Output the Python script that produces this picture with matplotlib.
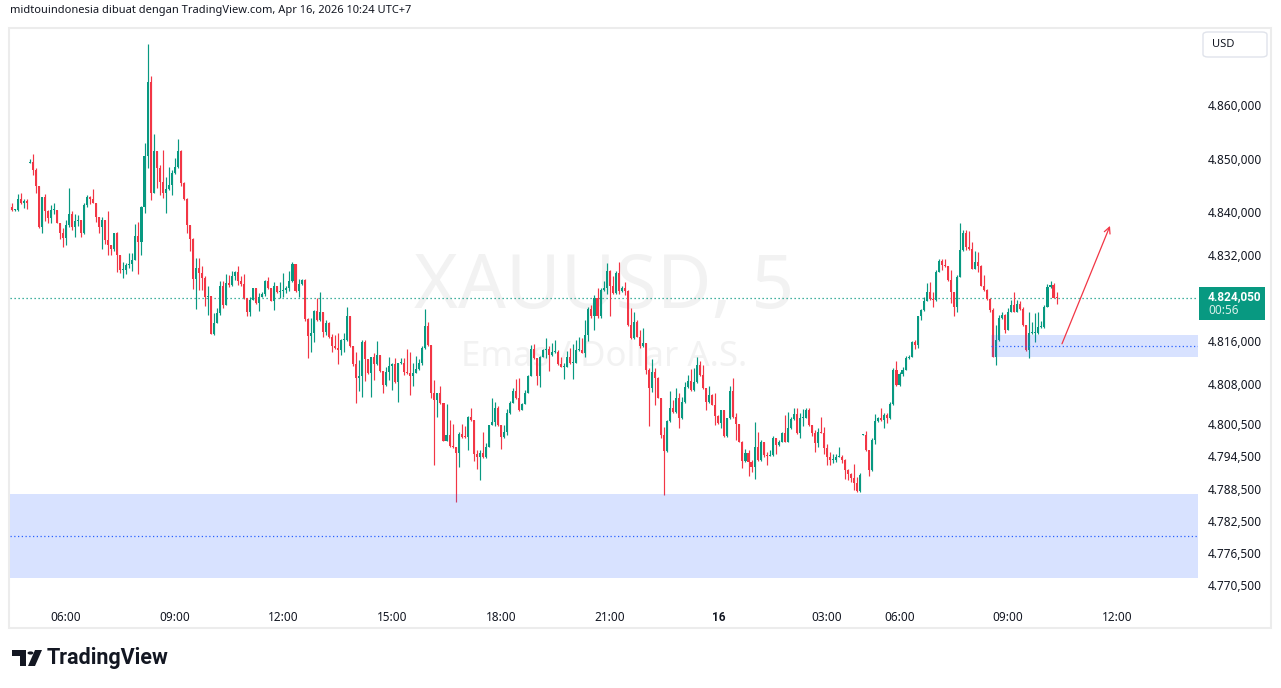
import matplotlib
matplotlib.use("Agg")
import matplotlib.pyplot as plt
from matplotlib.patches import Rectangle, FancyBboxPatch, Polygon, Circle

plt.rcParams['font.family'] = ['Noto Sans', 'DejaVu Sans']
BOLD_FAMILY = ['Roboto', 'DejaVu Sans']

# ---------------- data (XAUUSD 5-minute candles) ----------------
close = [
4841.1, 4840.5, 4840.5, 4842.5, 4841.8, 4842.2, 4841.8, 4849.5, 4848.0, 4844.9,
4837.2, 4842.8, 4840.2, 4839.0, 4840.5, 4840.5, 4838.1, 4836.2, 4835.3, 4837.7,
4839.7, 4837.2, 4838.4, 4838.6, 4836.2, 4841.4, 4842.8, 4842.5, 4841.8, 4839.1,
4837.3, 4838.6, 4834.9, 4833.9, 4833.1, 4836.1, 4832.1, 4829.3, 4829.3, 4830.2,
4830.3, 4831.2, 4835.7, 4834.5, 4841.0, 4850.5, 4864.3, 4843.6, 4851.4, 4848.3,
4845.7, 4843.6, 4844.4, 4845.2, 4847.4, 4848.4, 4851.4, 4845.5, 4842.6, 4837.6,
4835.1, 4827.6, 4829.6, 4828.7, 4827.8, 4824.2, 4824.4, 4817.3, 4819.4, 4821.2,
4826.2, 4822.8, 4826.8, 4826.4, 4828.1, 4828.9, 4827.2, 4826.6, 4824.1, 4821.4,
4823.7, 4825.9, 4823.2, 4824.3, 4824.7, 4827.2, 4825.9, 4823.5, 4826.2, 4825.2,
4825.3, 4825.5, 4825.9, 4827.2, 4830.3, 4825.3, 4826.6, 4827.4, 4820.1, 4817.0,
4817.6, 4821.6, 4819.9, 4821.5, 4817.7, 4819.3, 4816.8, 4815.0, 4814.7, 4814.3,
4816.2, 4816.2, 4820.7, 4815.0, 4811.7, 4809.1, 4809.5, 4815.9, 4812.6, 4810.1,
4813.0, 4811.7, 4813.4, 4810.5, 4807.8, 4810.3, 4811.4, 4811.7, 4808.4, 4811.9,
4812.0, 4810.3, 4810.0, 4809.5, 4810.1, 4810.8, 4811.9, 4814.7, 4818.8, 4815.3,
4806.3, 4805.0, 4806.3, 4804.4, 4797.4, 4798.5, 4796.4, 4796.3, 4795.2, 4798.7,
4798.2, 4798.1, 4801.9, 4801.3, 4794.9, 4794.3, 4795.1, 4794.3, 4796.3, 4800.3,
4800.9, 4803.5, 4800.3, 4798.2, 4799.1, 4802.5, 4804.5, 4806.7, 4805.3, 4803.1,
4804.3, 4806.4, 4809.5, 4814.5, 4812.8, 4809.5, 4813.1, 4814.3, 4814.5, 4813.4,
4814.0, 4814.0, 4811.7, 4811.2, 4811.2, 4813.0, 4812.0, 4812.0, 4814.3, 4814.3,
4813.8, 4817.1, 4822.0, 4820.6, 4824.1, 4820.6, 4825.5, 4825.9, 4829.1, 4826.2,
4824.9, 4828.8, 4825.3, 4826.0, 4825.3, 4819.0, 4816.5, 4819.6, 4816.8, 4815.0,
4815.6, 4810.6, 4807.2, 4810.3, 4809.2, 4805.4, 4798.5, 4795.5, 4801.1, 4803.6,
4802.7, 4805.3, 4801.6, 4804.7, 4807.5, 4808.6, 4806.9, 4808.4, 4811.6, 4809.7,
4807.2, 4804.7, 4806.0, 4804.1, 4802.0, 4800.8, 4803.1, 4798.3, 4801.6, 4806.7,
4801.8, 4800.5, 4797.2, 4793.7, 4795.1, 4793.5, 4792.6, 4796.2, 4793.8, 4797.2,
4794.7, 4794.6, 4794.7, 4797.9, 4796.6, 4797.2, 4798.9, 4797.2, 4799.7, 4801.4,
4802.4, 4798.8, 4801.6, 4801.6, 4803.1, 4800.3, 4798.9, 4797.0, 4799.1, 4798.9,
4796.0, 4794.3, 4793.9, 4793.9, 4794.4, 4794.4, 4793.9, 4791.9, 4791.3, 4790.4,
4789.5, 4788.1, 4791.0, 4798.5, 4795.7, 4791.9, 4797.5, 4801.1, 4801.6, 4801.3,
4802.2, 4801.6, 4804.3, 4810.6, 4807.8, 4809.9, 4810.7, 4812.8, 4813.1, 4815.9,
4815.3, 4820.6, 4821.8, 4823.5, 4825.2, 4823.8, 4823.7, 4828.9, 4830.9, 4830.2,
4830.1, 4827.4, 4825.2, 4822.4, 4828.0, 4833.0, 4836.1, 4833.6, 4833.2, 4829.5,
4830.8, 4830.1, 4826.3, 4825.5, 4823.8, 4821.8, 4813.1, 4816.2, 4820.3, 4820.9,
4818.1, 4821.5, 4822.7, 4821.5, 4822.9, 4822.0, 4819.0, 4814.3, 4817.5, 4817.5,
4817.5, 4818.7, 4818.7, 4822.4, 4826.1, 4826.5, 4824.1, 4824.05,
]

high = [
4841.7, 4841.7, 4840.6, 4843.4, 4843.6, 4842.5, 4842.6, 4850.0, 4851.0, 4848.3,
4844.9, 4842.9, 4843.4, 4840.5, 4841.4, 4841.8, 4840.5, 4838.1, 4837.1, 4838.6,
4844.5, 4840.3, 4839.7, 4839.5, 4838.6, 4841.7, 4843.3, 4843.1, 4844.3, 4841.8,
4839.1, 4839.2, 4838.6, 4840.3, 4833.9, 4836.2, 4836.4, 4832.1, 4830.8, 4830.5,
4832.4, 4832.4, 4837.8, 4838.2, 4841.2, 4852.9, 4871.4, 4865.4, 4854.6, 4851.5,
4848.9, 4851.7, 4846.7, 4848.4, 4848.0, 4850.2, 4853.7, 4851.7, 4845.7, 4842.7,
4837.7, 4835.2, 4831.5, 4831.5, 4830.0, 4828.1, 4826.2, 4824.4, 4821.2, 4822.2,
4827.2, 4827.2, 4828.5, 4828.3, 4829.0, 4829.1, 4830.0, 4828.1, 4828.5, 4824.1,
4824.3, 4826.0, 4825.9, 4824.9, 4825.1, 4827.4, 4828.0, 4825.9, 4827.0, 4826.3,
4827.1, 4828.8, 4826.3, 4829.0, 4830.8, 4830.4, 4827.6, 4827.5, 4827.6, 4820.3,
4820.4, 4821.8, 4824.1, 4825.2, 4821.5, 4819.9, 4819.6, 4817.3, 4817.1, 4817.5,
4816.4, 4817.5, 4822.4, 4820.7, 4815.0, 4814.0, 4812.5, 4816.2, 4816.2, 4812.6,
4813.1, 4813.8, 4816.0, 4813.4, 4810.5, 4811.2, 4813.1, 4811.9, 4812.8, 4812.0,
4812.8, 4812.8, 4814.5, 4814.0, 4811.9, 4813.2, 4812.6, 4815.0, 4821.9, 4819.6,
4815.3, 4808.7, 4806.4, 4807.6, 4804.4, 4804.3, 4801.3, 4800.5, 4796.3, 4799.1,
4800.5, 4800.2, 4802.0, 4803.5, 4801.3, 4795.7, 4795.6, 4799.1, 4797.0, 4800.4,
4805.3, 4804.7, 4803.9, 4800.3, 4800.3, 4803.3, 4804.9, 4807.2, 4808.9, 4809.1,
4804.4, 4806.9, 4809.7, 4815.3, 4815.5, 4812.9, 4813.2, 4814.5, 4816.5, 4815.1,
4815.6, 4816.3, 4814.3, 4813.0, 4812.0, 4814.2, 4814.7, 4815.5, 4816.3, 4816.8,
4816.5, 4819.9, 4822.4, 4822.7, 4824.6, 4825.9, 4826.0, 4827.2, 4830.5, 4829.3,
4828.2, 4829.0, 4830.8, 4826.2, 4827.1, 4825.5, 4822.1, 4821.5, 4819.9, 4818.1,
4818.4, 4815.6, 4810.9, 4812.7, 4810.9, 4809.3, 4805.4, 4800.0, 4801.2, 4806.7,
4805.0, 4807.2, 4806.3, 4805.6, 4808.4, 4809.7, 4810.8, 4810.9, 4813.1, 4812.2,
4811.5, 4807.2, 4807.6, 4806.2, 4806.3, 4802.2, 4803.2, 4803.1, 4801.7, 4807.6,
4809.1, 4802.6, 4800.6, 4797.3, 4795.8, 4795.7, 4793.9, 4800.9, 4799.1, 4797.5,
4796.9, 4795.4, 4795.6, 4798.3, 4797.9, 4797.5, 4799.1, 4802.2, 4802.8, 4801.9,
4803.6, 4803.5, 4802.5, 4803.3, 4803.5, 4803.5, 4800.3, 4799.4, 4799.7, 4801.9,
4800.0, 4796.8, 4795.4, 4794.9, 4794.9, 4796.3, 4794.7, 4794.1, 4792.1, 4791.4,
4793.1, 4790.6, 4791.4, 4798.6, 4799.2, 4795.7, 4797.9, 4802.4, 4801.8, 4803.6,
4802.5, 4802.6, 4804.7, 4810.9, 4812.2, 4810.3, 4811.2, 4813.2, 4813.4, 4816.1,
4816.2, 4820.7, 4821.9, 4824.3, 4826.8, 4827.1, 4825.2, 4829.2, 4831.4, 4831.4,
4831.4, 4830.1, 4829.3, 4825.2, 4828.3, 4838.0, 4836.7, 4836.7, 4836.5, 4834.5,
4832.8, 4832.7, 4830.2, 4828.3, 4825.7, 4824.0, 4822.1, 4819.0, 4820.9, 4821.5,
4821.1, 4822.1, 4823.7, 4825.2, 4823.7, 4823.5, 4822.4, 4819.1, 4821.5, 4819.5,
4821.2, 4821.4, 4819.8, 4822.7, 4826.6, 4827.2, 4826.8, 4825.2,
]

low = [
4840.5, 4840.3, 4840.3, 4840.2, 4841.6, 4840.8, 4840.6, 4849.3, 4847.0, 4843.6,
4837.1, 4836.2, 4838.5, 4838.0, 4838.0, 4839.7, 4838.0, 4835.1, 4833.5, 4834.0,
4837.3, 4836.7, 4835.4, 4837.5, 4835.5, 4836.0, 4841.1, 4841.6, 4841.7, 4838.3,
4836.2, 4833.2, 4834.2, 4832.1, 4832.1, 4832.9, 4828.9, 4828.8, 4827.7, 4828.6,
4829.6, 4829.0, 4831.2, 4828.5, 4832.0, 4839.9, 4848.3, 4842.4, 4843.6, 4844.6,
4843.3, 4842.7, 4839.9, 4844.2, 4843.3, 4847.2, 4848.3, 4844.9, 4842.4, 4836.2,
4832.8, 4825.8, 4821.9, 4825.6, 4825.6, 4822.5, 4820.9, 4817.3, 4817.2, 4819.4,
4820.9, 4822.2, 4822.7, 4826.1, 4826.3, 4827.4, 4826.5, 4826.3, 4823.9, 4820.7,
4820.7, 4823.7, 4822.9, 4821.6, 4824.2, 4824.4, 4825.7, 4823.4, 4821.8, 4825.0,
4824.1, 4824.2, 4825.0, 4825.3, 4827.0, 4825.2, 4824.3, 4826.5, 4819.7, 4812.9,
4814.0, 4815.8, 4819.7, 4819.8, 4816.8, 4817.1, 4816.6, 4813.9, 4814.5, 4811.7,
4813.5, 4813.9, 4816.0, 4814.9, 4811.4, 4804.4, 4806.7, 4805.6, 4808.5, 4809.9,
4805.6, 4808.7, 4811.5, 4810.2, 4806.4, 4807.6, 4808.7, 4806.9, 4808.1, 4804.7,
4811.7, 4809.7, 4809.8, 4806.0, 4807.6, 4810.0, 4810.6, 4811.5, 4814.5, 4815.1,
4805.3, 4792.9, 4801.8, 4804.3, 4797.3, 4797.3, 4796.2, 4796.1, 4786.0, 4792.6,
4797.9, 4797.9, 4795.6, 4801.1, 4793.7, 4792.1, 4790.1, 4794.2, 4794.2, 4796.2,
4800.3, 4800.2, 4800.2, 4795.8, 4798.0, 4798.5, 4802.4, 4804.4, 4805.2, 4803.0,
4803.3, 4804.2, 4806.3, 4809.4, 4812.7, 4807.8, 4807.4, 4813.0, 4812.8, 4810.5,
4813.2, 4813.8, 4811.6, 4811.1, 4808.9, 4811.1, 4811.8, 4808.9, 4811.9, 4814.2,
4813.7, 4813.1, 4816.0, 4820.4, 4818.1, 4820.4, 4820.4, 4825.3, 4824.7, 4820.6,
4824.8, 4824.8, 4824.7, 4825.2, 4824.6, 4818.9, 4816.4, 4816.4, 4816.7, 4814.8,
4814.9, 4809.8, 4800.2, 4806.6, 4804.1, 4805.3, 4798.0, 4787.3, 4795.4, 4801.0,
4802.6, 4802.6, 4799.7, 4801.5, 4804.5, 4807.3, 4806.7, 4806.7, 4808.1, 4809.5,
4807.1, 4803.1, 4804.5, 4804.0, 4800.3, 4800.6, 4799.7, 4798.2, 4798.2, 4801.5,
4801.6, 4797.5, 4797.2, 4792.3, 4793.5, 4790.8, 4791.6, 4790.3, 4793.7, 4793.7,
4794.4, 4792.9, 4794.5, 4794.6, 4795.0, 4796.5, 4797.1, 4797.1, 4797.1, 4799.6,
4801.3, 4798.7, 4798.0, 4800.2, 4801.6, 4800.2, 4798.3, 4795.4, 4796.3, 4798.8,
4794.9, 4792.9, 4792.9, 4793.2, 4793.5, 4794.3, 4793.2, 4790.2, 4790.1, 4789.7,
4788.2, 4787.9, 4787.9, 4798.4, 4795.5, 4790.8, 4791.8, 4796.8, 4800.9, 4801.1,
4799.7, 4800.8, 4801.5, 4804.1, 4807.6, 4807.6, 4809.5, 4810.6, 4812.7, 4813.0,
4814.5, 4814.8, 4820.0, 4821.7, 4823.4, 4823.7, 4822.4, 4823.5, 4828.9, 4829.3,
4829.9, 4827.3, 4823.2, 4820.6, 4821.5, 4827.9, 4832.9, 4833.0, 4833.0, 4829.4,
4829.4, 4828.9, 4826.2, 4825.3, 4823.7, 4821.5, 4813.1, 4811.5, 4816.1, 4820.1,
4817.6, 4818.0, 4821.4, 4821.4, 4821.4, 4821.8, 4818.8, 4814.2, 4812.8, 4817.3,
4815.9, 4817.3, 4818.5, 4818.5, 4822.4, 4826.0, 4824.0, 4822.9,
]

# opens that differ from the previous close (session gaps)
gap_opens = {0: 4841.7, 7: 4849.3, 283: 4798.5}

last_price = 4824.05
price_ticks = [4860.0, 4850.0, 4840.0, 4832.0, 4816.0, 4808.0, 4800.5,
               4794.5, 4788.5, 4782.5, 4776.5, 4770.5]
time_tick_bars = [19, 55, 91, 127, 163, 199, 235, 271, 295, 331, 367]
time_tick_labels = ['06:00', '09:00', '12:00', '15:00', '18:00', '21:00', '16',
                    '03:00', '06:00', '09:00', '12:00']

zone_big = (4771.8, 4787.5)        # demand zone (low, high)
zone_small = (4813.0, 4817.1)
zone_small_start = 325.3           # bar index where small zone begins
arrow_from = (348.8, 4815.5)
arrow_to = (364.7, 4837.5)

# ---------------- figure ----------------
W, H = 1281, 688
fig = plt.figure(figsize=(W / 100, H / 100), dpi=100)
fig.patch.set_facecolor('white')

def fx(x):
    return x / W

def fy(y):
    return 1 - y / H

PX0, PX1, PY0, PY1 = 10, 1198, 28, 600
ax = fig.add_axes([fx(PX0), fy(PY1), (PX1 - PX0) / W, (PY1 - PY0) / H])
ax.set_facecolor('none')
for s in ax.spines.values():
    s.set_visible(False)

GREEN = '#089981'
RED = '#F23645'
TXT = '#131722'

n = len(close)
for i in range(n):
    o = gap_opens.get(i, close[i - 1] if i > 0 else close[0])
    c = close[i]
    col = GREEN if c >= o else RED
    hi = max(high[i], o, c)
    lo = min(low[i], o, c)
    ax.vlines(i, lo, hi, color=col, lw=0.85, zorder=3)
    h = abs(c - o)
    if h < 0.18:
        h = 0.18
    ax.bar(i, h, bottom=min(o, c), width=0.68, color=col, lw=0, zorder=3)

xmin, xmax = 0.46, 393.84
ymin, ymax = 4767.70, 4874.42
ax.set_xlim(xmin, xmax)
ax.set_ylim(ymin, ymax)

# zones (semi-transparent over candles)
zc = (41 / 255, 98 / 255, 255 / 255, 0.18)
ax.add_patch(Rectangle((xmin, zone_big[0]), xmax - xmin, zone_big[1] - zone_big[0],
                       fc=zc, ec='none', zorder=4))
ax.add_patch(Rectangle((zone_small_start, zone_small[0]), xmax - zone_small_start,
                       zone_small[1] - zone_small[0], fc=zc, ec='none', zorder=4))
ax.hlines(sum(zone_big) / 2, xmin, xmax, colors='#2962FF', linestyles=(0, (1, 2)),
          lw=0.9, zorder=5)
ax.hlines(sum(zone_small) / 2, zone_small_start, xmax, colors='#2962FF',
          linestyles=(0, (1, 2)), lw=0.9, zorder=5)

# last price line
ax.axhline(last_price, color=GREEN, linestyle=(0, (1, 2.2)), lw=0.9, zorder=2)

# arrow
ax.annotate('', xy=arrow_to, xytext=arrow_from,
            arrowprops=dict(arrowstyle='->', color=RED, lw=0.9,
                            mutation_scale=11, shrinkA=0, shrinkB=0), zorder=6)

# watermark
ax.text(0.5, (PY1 - 288) / (PY1 - PY0), 'XAUUSD, 5', transform=ax.transAxes,
        ha='center', va='center', fontsize=54, color='#f2f2f2', zorder=1)
ax.text(0.5, (PY1 - 357) / (PY1 - PY0), 'Emas / Dollar A.S.', transform=ax.transAxes,
        ha='center', va='center', fontsize=25, color='#f2f2f2', zorder=1)

# y axis
def fmt(v):
    s = f"{v:,.3f}"
    return s.replace(',', '#').replace('.', ',').replace('#', '.')

ax.yaxis.tick_right()
ax.set_yticks(price_ticks)
ax.set_yticklabels([fmt(v) for v in price_ticks])
ax.tick_params(axis='y', length=0, pad=7, labelsize=8.5, labelcolor=TXT)

# x axis
ax.set_xticks(time_tick_bars)
ax.set_xticklabels(time_tick_labels)
ax.tick_params(axis='x', length=0, pad=8, labelsize=8.5, labelcolor=TXT)
for lbl in ax.get_xticklabels():
    if lbl.get_text() == '16':
        lbl.set_fontfamily(BOLD_FAMILY)
        lbl.set_fontweight('bold')

# outer frame
fig.patches.append(Rectangle((fx(9), fy(628)), (1271 - 9) / W, (628 - 28) / H,
                             transform=fig.transFigure, fill=False,
                             ec='#ececec', lw=1.5))

# USD box
fig.patches.append(FancyBboxPatch((fx(1203), fy(57)), 64 / W, 25 / H,
                                  boxstyle='round,pad=0,rounding_size=0.004',
                                  transform=fig.transFigure, fc='white',
                                  ec='#e0e3eb', lw=1))
fig.text(fx(1212), fy(44.5), 'USD', ha='left', va='center', fontsize=8, color=TXT)

# last price label
fig.patches.append(Rectangle((fx(1199), fy(320)), 66 / W, 33 / H,
                             transform=fig.transFigure, fc=GREEN, ec='none'))
fig.text(fx(1208), fy(296.5), fmt(last_price), ha='left', va='center',
         fontsize=8.5, fontweight='bold', family=BOLD_FAMILY, color='white')
fig.text(fx(1208), fy(311), '00:56', ha='left', va='center', fontsize=8.5,
         color='#d8f0ea')

# title
fig.text(fx(10), fy(11), 'midtouindonesia dibuat dengan TradingView.com, Apr 16, 2026 10:24 UTC+7',
         ha='left', va='center', fontsize=8, color=TXT)

# TradingView logo
def P(x, y):
    return (fx(x), fy(y))

fig.patches.append(Polygon([P(12, 650), P(26, 650), P(26, 666), P(20, 666),
                            P(20, 656), P(12, 656)], closed=True,
                           transform=fig.transFigure, fc=TXT, ec='none'))
fig.patches.append(Circle(P(30.5, 653), 3.0 / W, transform=fig.transFigure,
                          fc=TXT, ec='none'))
fig.patches.append(Polygon([P(35, 650), P(42, 650), P(35, 666), P(28, 666)],
                           closed=True, transform=fig.transFigure, fc=TXT, ec='none'))
fig.text(fx(47), fy(658), 'TradingView', ha='left', va='center', fontsize=15.5,
         fontweight='bold', family=BOLD_FAMILY, color=TXT)

fig.savefig('out.png', dpi=100, facecolor='white')
